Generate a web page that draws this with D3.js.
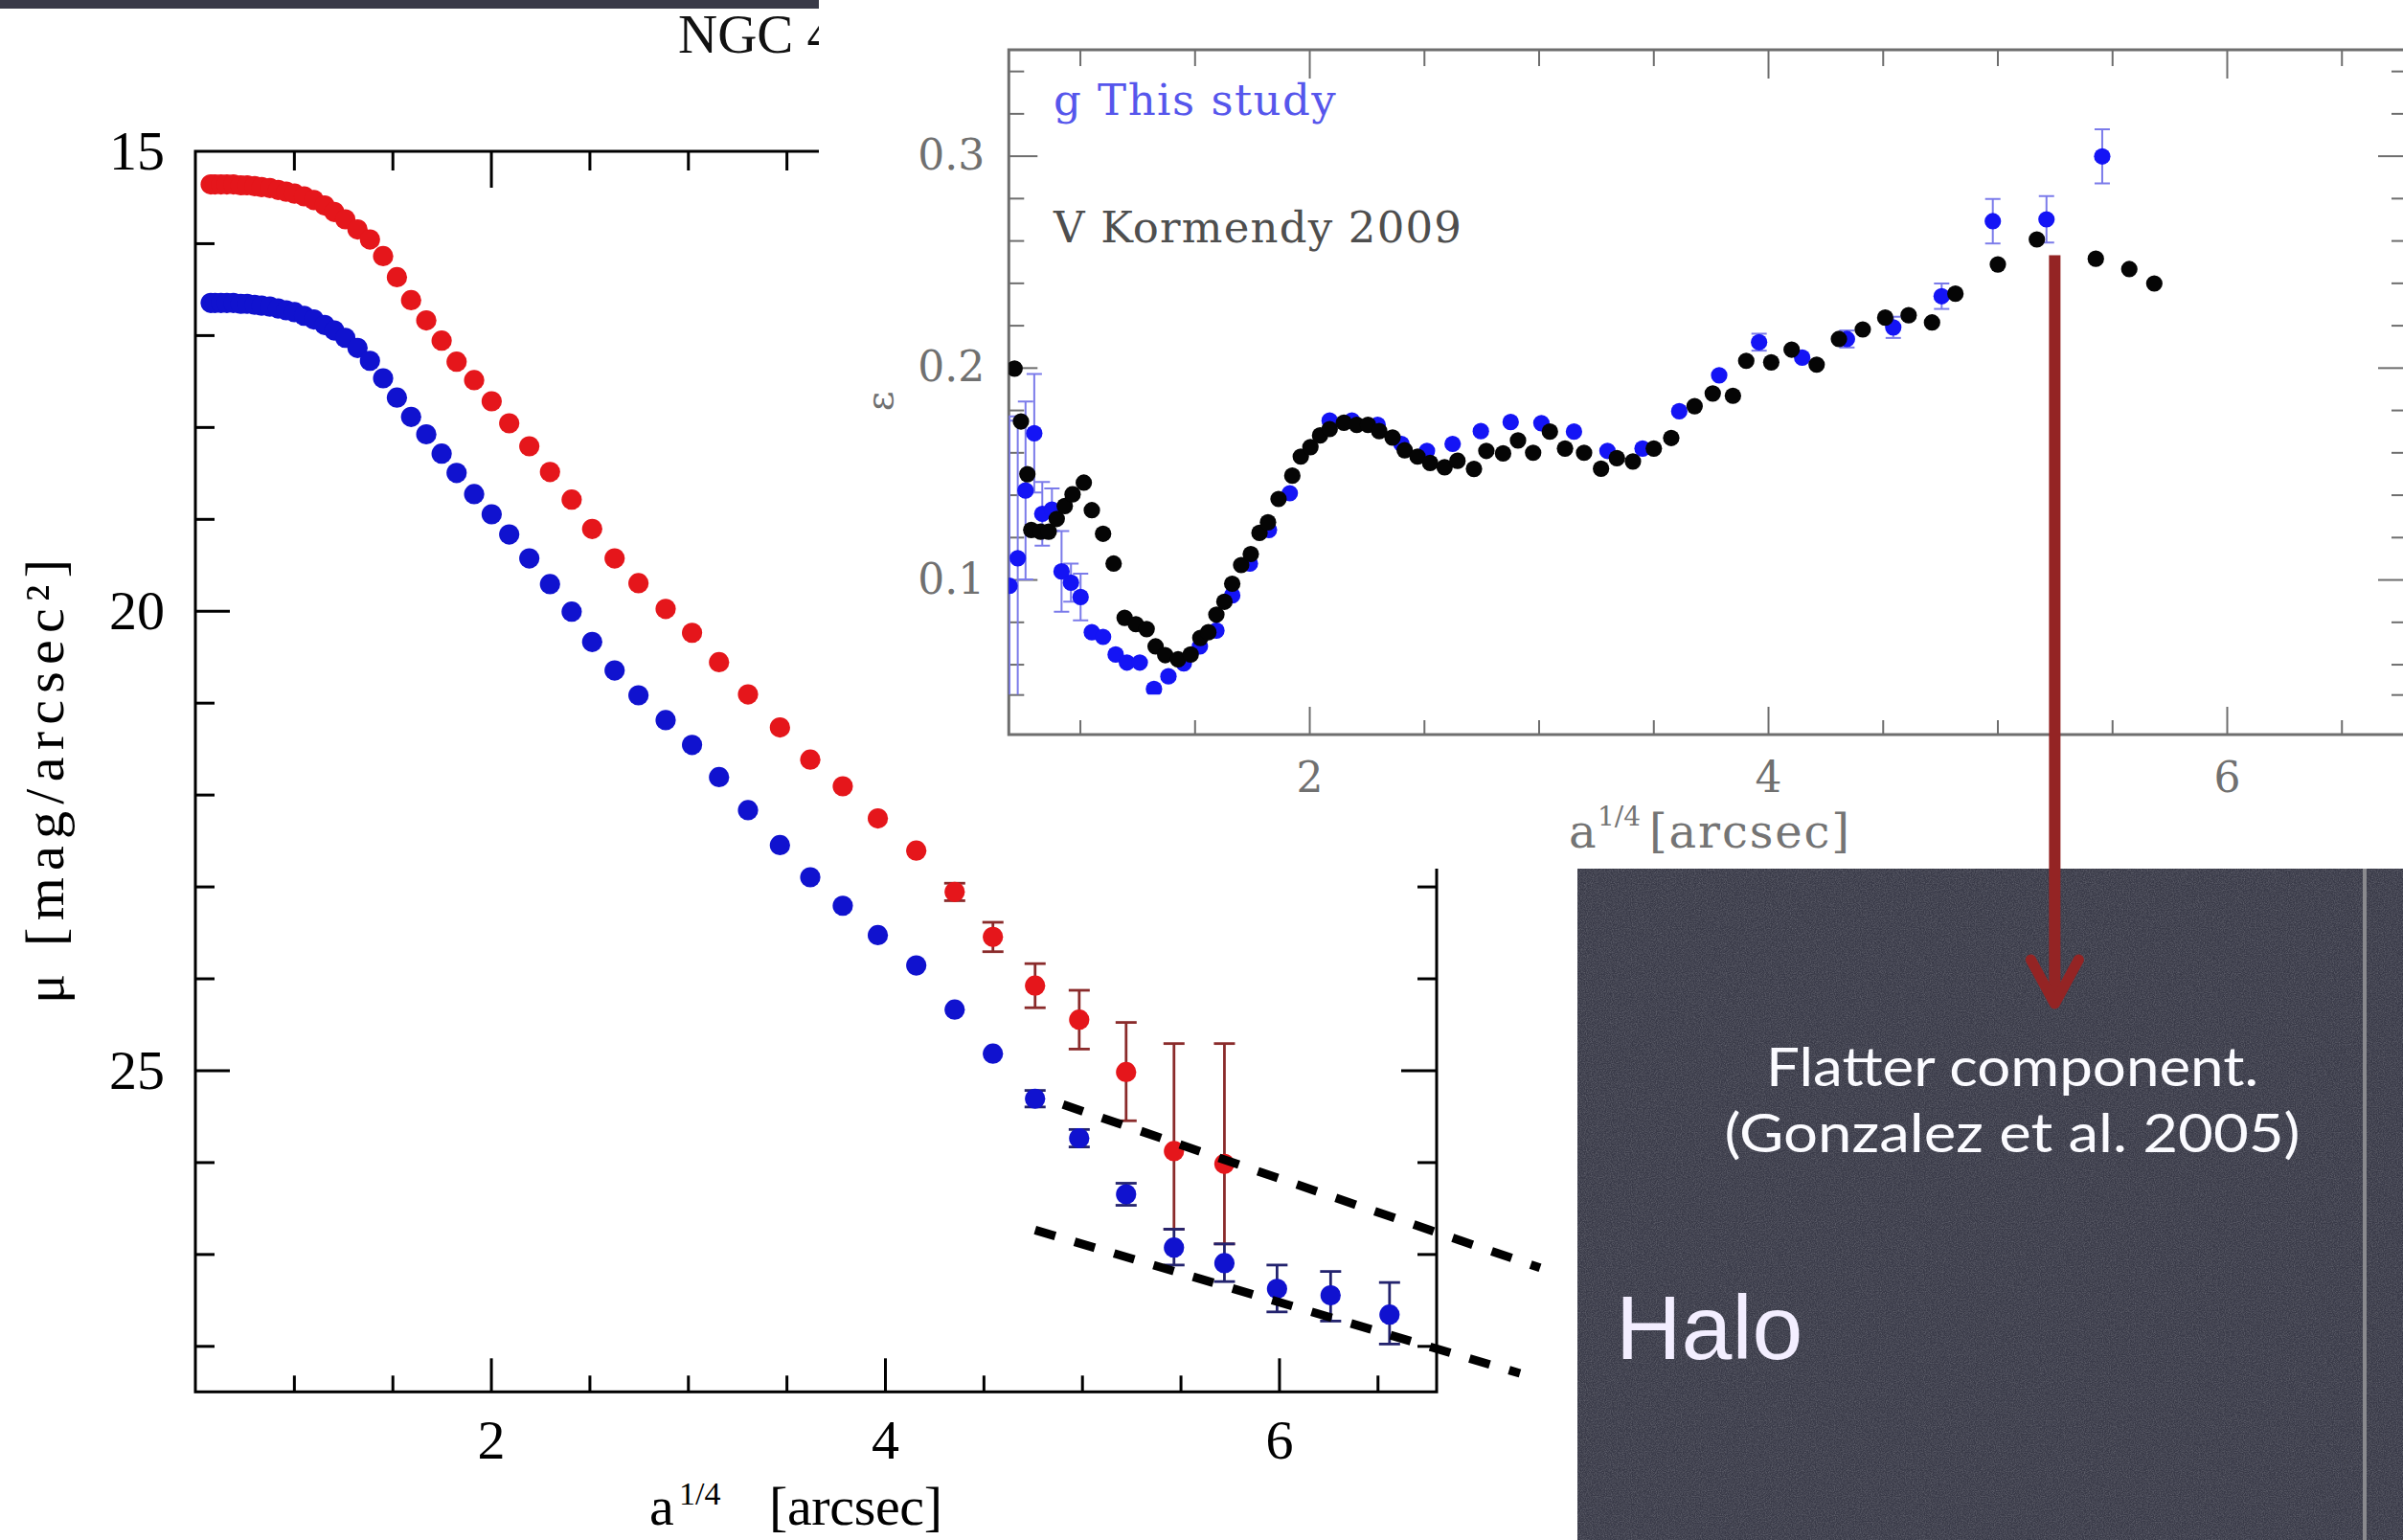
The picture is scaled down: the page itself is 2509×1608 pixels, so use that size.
<!DOCTYPE html>
<html>
<head>
<meta charset="utf-8">
<script src="https://cdn.jsdelivr.net/npm/d3@7"></script>
<style>
  html, body { margin: 0; padding: 0; background: #fff; }
  svg { display: block; }
</style>
</head>
<body>
<svg id="fig" width="2509" height="1608"></svg>
<script>
// ---------------------------------------------------------------
// Surface-brightness profiles (two bands) against a^{1/4}
// ---------------------------------------------------------------
const radius = [
  0.578, 0.600, 0.630, 0.660, 0.693, 0.729, 0.763, 0.801, 0.836, 0.878,
  0.920, 0.961, 1.003, 1.052, 1.101, 1.156, 1.205, 1.261, 1.323, 1.386,
  1.453, 1.523, 1.595, 1.672, 1.750, 1.826, 1.915, 2.004, 2.093, 2.195,
  2.300, 2.410, 2.514, 2.628, 2.749, 2.887, 3.021, 3.158, 3.305, 3.467,
  3.621, 3.786, 3.964, 4.159, 4.354, 4.548, 4.762, 4.986, 5.224, 5.467,
  5.723, 5.990, 6.262, 6.561
];

// red profile (brighter band), mag/arcsec^2
const muRed = [
  15.36, 15.36, 15.36, 15.36, 15.36, 15.37, 15.37, 15.38, 15.39, 15.40,
  15.42, 15.44, 15.46, 15.49, 15.53, 15.59, 15.66, 15.74, 15.85, 15.96,
  16.14, 16.37, 16.62, 16.84, 17.06, 17.29, 17.49, 17.72, 17.96, 18.21,
  18.49, 18.79, 19.11, 19.43, 19.70, 19.98, 20.24, 20.56, 20.91, 21.27,
  21.62, 21.91, 22.26, 22.61, 23.06, 23.55, 24.08, 24.45, 25.02, 25.88,
  26.02
];
const muRedErrUp = [
  0, 0, 0, 0, 0, 0, 0, 0, 0, 0,
  0, 0, 0, 0, 0, 0, 0, 0, 0, 0,
  0, 0, 0, 0, 0, 0, 0, 0, 0, 0,
  0, 0, 0, 0, 0, 0, 0, 0, 0, 0,
  0, 0, 0, 0, 0.095, 0.16, 0.24, 0.32, 0.54, 1.17,
  1.31
];
const muRedErrDown = [
  0, 0, 0, 0, 0, 0, 0, 0, 0, 0,
  0, 0, 0, 0, 0, 0, 0, 0, 0, 0,
  0, 0, 0, 0, 0, 0, 0, 0, 0, 0,
  0, 0, 0, 0, 0, 0, 0, 0, 0, 0,
  0, 0, 0, 0, 0.095, 0.16, 0.24, 0.32, 0.53, 0.85,
  0.87
];

// blue profile (fainter band), mag/arcsec^2
const muBlue = [
  16.65, 16.65, 16.65, 16.65, 16.65, 16.66, 16.66, 16.67, 16.68, 16.69,
  16.71, 16.73, 16.75, 16.79, 16.83, 16.89, 16.95, 17.03, 17.14, 17.28,
  17.47, 17.68, 17.89, 18.08, 18.29, 18.50, 18.73, 18.95, 19.17, 19.43,
  19.71, 20.01, 20.34, 20.65, 20.92, 21.19, 21.46, 21.81, 22.17, 22.55,
  22.90, 23.21, 23.53, 23.86, 24.34, 24.82, 25.31, 25.74, 26.35, 26.93,
  27.10, 27.38, 27.45, 27.66
];
const muBlueErrUp = [
  0, 0, 0, 0, 0, 0, 0, 0, 0, 0,
  0, 0, 0, 0, 0, 0, 0, 0, 0, 0,
  0, 0, 0, 0, 0, 0, 0, 0, 0, 0,
  0, 0, 0, 0, 0, 0, 0, 0, 0, 0,
  0, 0, 0, 0, 0, 0, 0.09, 0.095, 0.12, 0.20,
  0.21, 0.26, 0.26, 0.35
];
const muBlueErrDown = [
  0, 0, 0, 0, 0, 0, 0, 0, 0, 0,
  0, 0, 0, 0, 0, 0, 0, 0, 0, 0,
  0, 0, 0, 0, 0, 0, 0, 0, 0, 0,
  0, 0, 0, 0, 0, 0, 0, 0, 0, 0,
  0, 0, 0, 0, 0, 0, 0.09, 0.095, 0.12, 0.19,
  0.20, 0.25, 0.28, 0.32
];

// dashed guides bracketing the outer halo slope, [a^{1/4}, mu]
const haloGuideUpper = [[4.904, 25.373], [7.325, 27.150]];
const haloGuideLower = [[4.762, 26.740], [7.223, 28.299]];

// tick values of the profile panel
const mainXMajor = [2, 4, 6];
const mainXMinor = [1, 1.5, 2.5, 3, 3.5, 4.5, 5, 5.5, 6.5];
const mainYLabels = [15, 20, 25];
const mainYMajor = [20, 25];
const mainYMinor = [16, 17, 18, 19, 21, 22, 23, 24, 26, 27, 28];

// ---------------------------------------------------------------
// Ellipticity profiles (inset)
// ---------------------------------------------------------------
const kormendyX = [
  0.715, 0.743, 0.771, 0.788, 0.829, 0.864, 0.899, 0.934, 0.968, 1.017,
  1.052, 1.101, 1.147, 1.195, 1.244, 1.291, 1.330, 1.372, 1.428, 1.483,
  1.525, 1.560, 1.595, 1.630, 1.664, 1.703, 1.745, 1.783, 1.820, 1.866,
  1.926, 1.963, 2.005, 2.047, 2.089, 2.151, 2.207, 2.256, 2.305, 2.363,
  2.416, 2.472, 2.527, 2.590, 2.646, 2.718, 2.772, 2.845, 2.910, 2.976,
  3.049, 3.115, 3.198, 3.272, 3.341, 3.411, 3.502, 3.578, 3.680, 3.759,
  3.847, 3.905, 4.014, 4.103, 4.212, 4.309, 4.413, 4.511, 4.613, 4.715,
  4.817, 5.002, 5.172, 5.429, 5.575, 5.684
];
const kormendyEps = [
  0.1995, 0.1746, 0.1497, 0.1234, 0.1226, 0.1226, 0.1286, 0.1347, 0.1402, 0.1457,
  0.1327, 0.1216, 0.1075, 0.0819, 0.0789, 0.0766, 0.0684, 0.0643, 0.0623, 0.0646,
  0.0724, 0.0751, 0.0834, 0.0895, 0.0980, 0.1068, 0.1120, 0.1220, 0.1270, 0.1380,
  0.1490, 0.1580, 0.1625, 0.1680, 0.1710, 0.1740, 0.1730, 0.1730, 0.1700, 0.1670,
  0.1610, 0.1580, 0.1550, 0.1530, 0.1560, 0.1522, 0.1607, 0.1595, 0.1656, 0.1598,
  0.1698, 0.1618, 0.1598, 0.1523, 0.1573, 0.1557, 0.1618, 0.1668, 0.1818, 0.1878,
  0.1867, 0.2032, 0.2025, 0.2085, 0.2014, 0.2135, 0.2180, 0.2236, 0.2247, 0.2213,
  0.2349, 0.2487, 0.2605, 0.2514, 0.2465, 0.2397
];

const studyX = [
  0.693, 0.729, 0.763, 0.801, 0.836, 0.878, 0.920, 0.961, 1.003, 1.052,
  1.101, 1.156, 1.205, 1.261, 1.323, 1.386, 1.453, 1.523, 1.595, 1.664,
  1.741, 1.824, 1.915, 2.089, 2.186, 2.298, 2.402, 2.513, 2.625, 2.748,
  2.878, 3.012, 3.154, 3.300, 3.453, 3.613, 3.787, 3.961, 4.149, 4.344,
  4.546, 4.757, 4.980, 5.214, 5.457
];
const studyEps = [
  0.0970, 0.1100, 0.1420, 0.1690, 0.1310, 0.1330, 0.1038, 0.0985, 0.0917, 0.0751,
  0.0729, 0.0646, 0.0608, 0.0608, 0.0483, 0.0543, 0.0604, 0.0684, 0.0759, 0.0925,
  0.1075, 0.1234, 0.1407, 0.1750, 0.1750, 0.1730, 0.1640, 0.1607, 0.1640, 0.1700,
  0.1743, 0.1738, 0.1698, 0.1607, 0.1618, 0.1794, 0.1964, 0.2120, 0.2047, 0.2135,
  0.2190, 0.2337, 0.2691, 0.2700, 0.2997
];
const studyErr = [
  0.080, 0.065, 0.042, 0.028, 0.015, 0.010, 0.019, 0.009, 0.011, 0,
  0, 0, 0, 0, 0, 0, 0, 0, 0, 0,
  0, 0, 0, 0, 0, 0, 0, 0, 0, 0,
  0, 0, 0, 0, 0, 0, 0, 0.004, 0, 0.004,
  0.005, 0.006, 0.0105, 0.011, 0.0128
];

const insetXMajor = [2, 4, 6];
const insetXMinor = [1, 1.5, 2.5, 3, 3.5, 4.5, 5, 5.5, 6.5];
const insetYMajor = [0.1, 0.2, 0.3];
const insetYMinor = [0.06, 0.08, 0.12, 0.14, 0.16, 0.18, 0.22, 0.24, 0.26, 0.28, 0.32, 0.34];
const insetFloor = 0.0457;   // lower edge of the ellipticity window

// ---------------------------------------------------------------
const svg = d3.select("#fig");
const SLATE = "#393a48";
const SERIF = "'Liberation Serif', 'Times New Roman', serif";
const HSERIF = "'DejaVu Serif', serif";

const defs = svg.append("defs");
const grain = defs.append("filter").attr("id", "grain")
  .attr("x", 0).attr("y", 0).attr("width", "100%").attr("height", "100%");
grain.append("feTurbulence").attr("type", "fractalNoise")
  .attr("baseFrequency", 0.85).attr("numOctaves", 2).attr("seed", 7).attr("result", "n");
grain.append("feColorMatrix").attr("in", "n").attr("type", "matrix")
  .attr("values", "0 0 0 0 1  0 0 0 0 1  0 0 0 0 1  0 0 0 0.35 -0.12");

// thin slide band above the profile figure
svg.append("rect").attr("x", 0).attr("y", 0).attr("width", 855).attr("height", 9).attr("fill", SLATE);

// helpers -------------------------------------------------------
function tickRow(parent, axis, tx, ty, values, len, color, width) {
  const g = parent.append("g").attr("transform", `translate(${tx},${ty})`)
    .call(axis.tickValues(values).tickSize(-len).tickSizeOuter(0).tickFormat(""));
  g.select(".domain").remove();
  g.selectAll("line").attr("stroke", color).attr("stroke-width", width);
  return g;
}
function tickLabels(parent, axis, tx, ty, values, fmt, pad, font, size, color) {
  const g = parent.append("g").attr("transform", `translate(${tx},${ty})`)
    .call(axis.tickValues(values).tickSize(0).tickSizeOuter(0).tickPadding(pad).tickFormat(fmt));
  g.select(".domain").remove();
  g.selectAll("line").remove();
  g.attr("font-family", font).attr("font-size", size);
  g.selectAll("text").attr("fill", color);
  return g;
}

// ---------------------------------------------------------------
// Profile panel
// ---------------------------------------------------------------
const mb = { x0: 204, x1: 1500, y0: 158, y1: 1453.3 };
const x = d3.scaleLinear().domain([0.5, 6.8]).range([mb.x0, mb.x1]);
const y = d3.scaleLinear().domain([15, 28.5]).range([mb.y0, mb.y1]);
const gMain = svg.append("g");

svg.append("text").attr("x", 708).attr("y", 55)
  .attr("font-family", SERIF).attr("font-size", 57).attr("fill", "#111")
  .text("NGC 4");

gMain.append("rect").attr("x", mb.x0).attr("y", mb.y0)
  .attr("width", mb.x1 - mb.x0).attr("height", mb.y1 - mb.y0)
  .attr("fill", "none").attr("stroke", "#000").attr("stroke-width", 3);

tickRow(gMain, d3.axisBottom(x), 0, mb.y1, mainXMinor, 17, "#000", 3);
tickRow(gMain, d3.axisBottom(x), 0, mb.y1, mainXMajor, 35, "#000", 3);
tickRow(gMain, d3.axisTop(x), 0, mb.y0, mainXMinor, 20, "#000", 3);
tickRow(gMain, d3.axisTop(x), 0, mb.y0, mainXMajor, 38, "#000", 3);
tickRow(gMain, d3.axisLeft(y), mb.x0, 0, mainYMinor, 20, "#000", 3);
tickRow(gMain, d3.axisLeft(y), mb.x0, 0, mainYMajor, 36, "#000", 3);
tickRow(gMain, d3.axisRight(y), mb.x1, 0, mainYMinor, 20, "#000", 3);
tickRow(gMain, d3.axisRight(y), mb.x1, 0, mainYMajor, 37, "#000", 3);

tickLabels(gMain, d3.axisBottom(x), 0, mb.y1, mainXMajor, d3.format("d"), 29, SERIF, 58, "#000");
tickLabels(gMain, d3.axisLeft(y), mb.x0, 0, mainYLabels, d3.format("d"), 32, SERIF, 58, "#000");

// axis titles
const xt = gMain.append("text").attr("font-family", SERIF).attr("fill", "#000");
xt.append("tspan").attr("x", 678).attr("y", 1592).attr("font-size", 58).text("a");
xt.append("tspan").attr("x", 709).attr("y", 1571).attr("font-size", 34).text("1/4");
xt.append("tspan").attr("x", 803).attr("y", 1592).attr("font-size", 58)
  .attr("textLength", 181).attr("lengthAdjust", "spacing").text("[arcsec]");

gMain.append("text")
  .attr("transform", "translate(66,816) rotate(-90)")
  .attr("text-anchor", "middle").attr("font-family", SERIF).attr("font-size", 58)
  .attr("textLength", 464).attr("lengthAdjust", "spacing").attr("fill", "#000")
  .text("\u03bc [mag/arcsec\u00b2]");

// data points with error bars
function profile(mu, up, dn, fill, barColor) {
  const pts = mu.map((m, i) => ({ r: radius[i], mu: m, up: up[i], dn: dn[i] }));
  const withErr = pts.filter(d => d.up > 0 || d.dn > 0);
  const eb = gMain.append("g").attr("stroke", barColor).attr("stroke-width", 2.8);
  eb.selectAll("line.v").data(withErr).join("line").attr("class", "v")
    .attr("x1", d => x(d.r)).attr("x2", d => x(d.r))
    .attr("y1", d => y(d.mu - d.up)).attr("y2", d => y(d.mu + d.dn));
  eb.selectAll("line.t").data(withErr).join("line").attr("class", "t")
    .attr("x1", d => x(d.r) - 11).attr("x2", d => x(d.r) + 11)
    .attr("y1", d => y(d.mu - d.up)).attr("y2", d => y(d.mu - d.up));
  eb.selectAll("line.b").data(withErr).join("line").attr("class", "b")
    .attr("x1", d => x(d.r) - 11).attr("x2", d => x(d.r) + 11)
    .attr("y1", d => y(d.mu + d.dn)).attr("y2", d => y(d.mu + d.dn));
  gMain.append("g").selectAll("circle").data(pts).join("circle")
    .attr("cx", d => x(d.r)).attr("cy", d => y(d.mu)).attr("r", 10.6)
    .attr("fill", fill);
}
profile(muRed, muRedErrUp, muRedErrDown, "#e5161b", "#8a2b2b");
profile(muBlue, muBlueErrUp, muBlueErrDown, "#1012cf", "#23236e");

// ---------------------------------------------------------------
// Inset: ellipticity
// ---------------------------------------------------------------
svg.append("polygon")
  .attr("points", [[855, 0], [2509, 0], [2509, 907], [975, 907], [975, 787], [855, 787]].join(" "))
  .attr("fill", "#fff");

const ib = { x0: 1053.3, x1: 2513, y0: 52, y1: 767 };
const xIn = d3.scaleLinear().domain([0.69, 6.785]).range([ib.x0, ib.x1]);
const yIn = d3.scaleLinear().domain([0.0268, 0.35]).range([ib.y1, ib.y0]);
const gIn = svg.append("g");
const AX = "#6e6e6e";

gIn.append("rect").attr("x", ib.x0).attr("y", ib.y0)
  .attr("width", ib.x1 - ib.x0).attr("height", ib.y1 - ib.y0)
  .attr("fill", "none").attr("stroke", AX).attr("stroke-width", 3);

tickRow(gIn, d3.axisBottom(xIn), 0, ib.y1, insetXMinor, 15, AX, 2);
tickRow(gIn, d3.axisBottom(xIn), 0, ib.y1, insetXMajor, 29, AX, 2);
tickRow(gIn, d3.axisTop(xIn), 0, ib.y0, insetXMinor, 17, AX, 2);
tickRow(gIn, d3.axisTop(xIn), 0, ib.y0, insetXMajor, 30, AX, 2);
tickRow(gIn, d3.axisLeft(yIn), ib.x0, 0, insetYMinor.concat([insetFloor]), 16, AX, 2);
tickRow(gIn, d3.axisLeft(yIn), ib.x0, 0, insetYMajor, 30, AX, 2);
tickRow(gIn, d3.axisRight(yIn), ib.x1, 0, insetYMinor.concat([insetFloor]), 16, AX, 2);
tickRow(gIn, d3.axisRight(yIn), ib.x1, 0, insetYMajor, 30, AX, 2);

tickLabels(gIn, d3.axisBottom(xIn), 0, ib.y1, insetXMajor, d3.format("d"), 29, HSERIF, 44, "#707070");
tickLabels(gIn, d3.axisLeft(yIn), ib.x0, 0, insetYMajor, d3.format(".1f"), 25, HSERIF, 44, "#707070");

const it = gIn.append("text").attr("font-family", HSERIF).attr("fill", "#747474");
it.append("tspan").attr("x", 1638).attr("y", 885).attr("font-size", 48).text("a");
it.append("tspan").attr("x", 1668).attr("y", 862).attr("font-size", 28).text("1/4");
it.append("tspan").attr("x", 1722).attr("y", 885).attr("font-size", 48)
  .attr("textLength", 209).attr("lengthAdjust", "spacing").text("[arcsec]");

gIn.append("text").attr("transform", "translate(932,419) rotate(-90)")
  .attr("text-anchor", "middle").attr("font-family", HSERIF).attr("font-size", 40)
  .attr("fill", "#707070").text("\u03b5");

gIn.append("text").attr("x", 1100).attr("y", 120)
  .attr("font-family", HSERIF).attr("font-size", 45).attr("letter-spacing", 1.5)
  .attr("fill", "#5656ec").text("g This study");
gIn.append("text").attr("x", 1100).attr("y", 253)
  .attr("font-family", HSERIF).attr("font-size", 45).attr("letter-spacing", 1.2)
  .attr("fill", "#4e4e4e").text("V Kormendy 2009");

defs.append("clipPath").attr("id", "epsWindow").append("rect")
  .attr("x", ib.x0).attr("y", ib.y0)
  .attr("width", ib.x1 - ib.x0).attr("height", yIn(insetFloor) - ib.y0);
const gData = gIn.append("g").attr("clip-path", "url(#epsWindow)");

const study = studyX.map((v, i) => ({ r: v, e: studyEps[i], err: studyErr[i] }));
const studyBars = study.filter(d => d.err > 0);
const sb = gData.append("g").attr("stroke", "#7b7bea").attr("stroke-width", 2);
sb.selectAll("line.v").data(studyBars).join("line").attr("class", "v")
  .attr("x1", d => xIn(d.r)).attr("x2", d => xIn(d.r))
  .attr("y1", d => yIn(d.e + d.err)).attr("y2", d => yIn(d.e - d.err));
sb.selectAll("line.t").data(studyBars).join("line").attr("class", "t")
  .attr("x1", d => xIn(d.r) - 8).attr("x2", d => xIn(d.r) + 8)
  .attr("y1", d => yIn(d.e + d.err)).attr("y2", d => yIn(d.e + d.err));
sb.selectAll("line.b").data(studyBars).join("line").attr("class", "b")
  .attr("x1", d => xIn(d.r) - 8).attr("x2", d => xIn(d.r) + 8)
  .attr("y1", d => yIn(d.e - d.err)).attr("y2", d => yIn(d.e - d.err));

gData.append("g").selectAll("circle").data(study).join("circle")
  .attr("cx", d => xIn(d.r)).attr("cy", d => yIn(d.e)).attr("r", 8.6)
  .attr("fill", "#1414f5");

gData.append("g").selectAll("circle").data(kormendyX.map((v, i) => [v, kormendyEps[i]]))
  .join("circle")
  .attr("cx", d => xIn(d[0])).attr("cy", d => yIn(d[1])).attr("r", 8.6)
  .attr("fill", "#050505");

// ---------------------------------------------------------------
// Halo guides over the profile panel
// ---------------------------------------------------------------
const guide = d3.line().x(d => x(d[0])).y(d => y(d[1]));
[haloGuideUpper, haloGuideLower].forEach(seg => {
  svg.append("path").attr("d", guide(seg))
    .attr("fill", "none").attr("stroke", "#000").attr("stroke-width", 9)
    .attr("stroke-dasharray", "22 21");
});

// ---------------------------------------------------------------
// Annotation panel
// ---------------------------------------------------------------
const panel = { x: 1647, y: 907, w: 2509 - 1647, h: 1608 - 907 };
svg.append("rect").attr("x", panel.x).attr("y", panel.y)
  .attr("width", panel.w).attr("height", panel.h).attr("fill", SLATE);
svg.append("rect").attr("x", panel.x).attr("y", panel.y)
  .attr("width", panel.w).attr("height", panel.h).attr("fill", "#fff")
  .attr("filter", "url(#grain)");
svg.append("line").attr("x1", 2469).attr("x2", 2469).attr("y1", panel.y).attr("y2", 1608)
  .attr("stroke", "#8a8a8e").attr("stroke-width", 4);

const NOTE = "'Lato', 'Noto Sans', sans-serif";
svg.append("text").attr("x", 2101).attr("y", 1134).attr("text-anchor", "middle")
  .attr("font-family", NOTE).attr("font-size", 56).attr("fill", "#fbfbff")
  .attr("textLength", 514).attr("lengthAdjust", "spacingAndGlyphs")
  .text("Flatter component.");
svg.append("text").attr("x", 2101).attr("y", 1203).attr("text-anchor", "middle")
  .attr("font-family", NOTE).attr("font-size", 56).attr("fill", "#fbfbff")
  .attr("textLength", 601).attr("lengthAdjust", "spacingAndGlyphs")
  .text("(Gonzalez et al. 2005)");
svg.append("text").attr("x", 1687).attr("y", 1419)
  .attr("font-family", "'Liberation Sans', Arial, sans-serif").attr("font-size", 95)
  .attr("fill", "#f3eeff").text("Halo");

// arrow from the outer ellipticity bump down to the note
const ARROW = "#942424";
const ax = xIn(5.25);
svg.append("line").attr("x1", ax).attr("x2", ax)
  .attr("y1", yIn(0.253)).attr("y2", 1044)
  .attr("stroke", ARROW).attr("stroke-width", 12);
svg.append("polyline")
  .attr("points", [[ax - 25, 1002], [ax, 1048], [ax + 25, 1002]].join(" "))
  .attr("fill", "none").attr("stroke", ARROW).attr("stroke-width", 11)
  .attr("stroke-linecap", "round").attr("stroke-linejoin", "round");
</script>
</body>
</html>
